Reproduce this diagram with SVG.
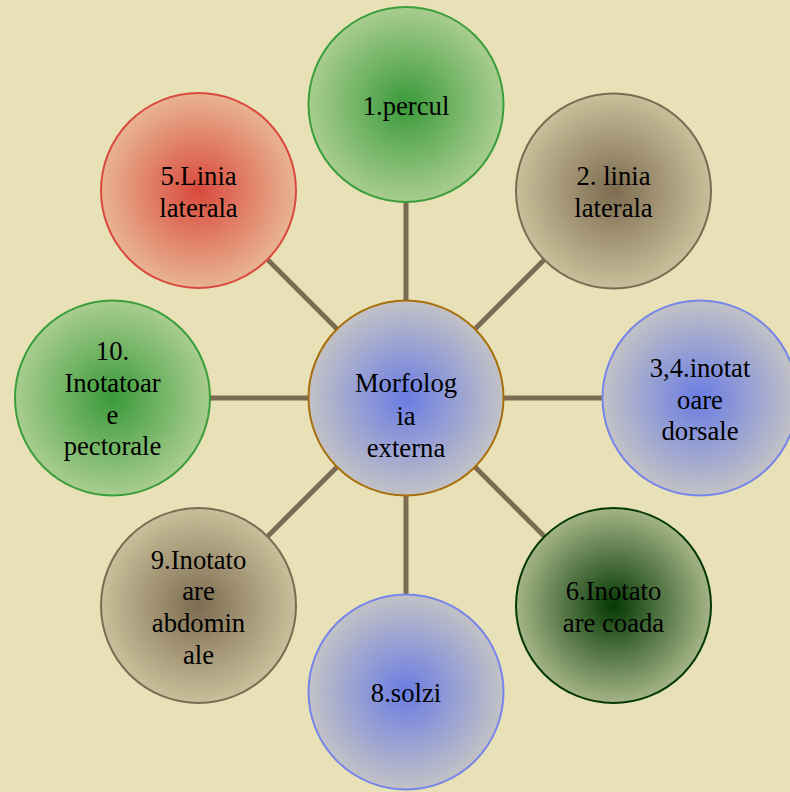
<svg xmlns="http://www.w3.org/2000/svg" width="790" height="792" viewBox="0 0 790 792">
<defs>
<radialGradient id="gGreen"><stop offset="0" stop-color="#3a9a3a"/><stop offset="1" stop-color="#a9cd8f"/></radialGradient>
<radialGradient id="gTan"><stop offset="0" stop-color="#7d6c50"/><stop offset="1" stop-color="#c9bf9a"/></radialGradient>
<radialGradient id="gBlue"><stop offset="0" stop-color="#6a7ce2"/><stop offset="1" stop-color="#c2c2c6"/></radialGradient>
<radialGradient id="gDark"><stop offset="0" stop-color="#043804"/><stop offset="1" stop-color="#a4b486"/></radialGradient>
<radialGradient id="gRed"><stop offset="0" stop-color="#d9493c"/><stop offset="1" stop-color="#e8b491"/></radialGradient>
</defs>
<style>
.n{stroke-width:2}
.t{font-family:"Liberation Serif","Times New Roman",serif;font-size:26.67px;fill:#000;text-anchor:middle}
.c line{stroke:#7b6b52;stroke-width:5}
</style>
<rect width="790" height="792" fill="#E8E1B8"/>
<g class="c">
<line x1="406" y1="300" x2="406" y2="202"/>
<line x1="406" y1="496" x2="406" y2="594"/>
<line x1="308" y1="398" x2="210" y2="398"/>
<line x1="504" y1="398" x2="602" y2="398"/>
<line x1="337" y1="329" x2="268" y2="260"/>
<line x1="475" y1="329" x2="544" y2="260"/>
<line x1="337" y1="467" x2="268" y2="536"/>
<line x1="475" y1="467" x2="544" y2="536"/>
</g>
<g id="n0"><circle class="n" cx="406" cy="398" r="97.5" fill="url(#gBlue)" stroke="#a8700c"/><text class="t" x="406"><tspan x="406" y="392">Morfolog</tspan><tspan x="406" y="424.5">ia</tspan><tspan x="406" y="456.5">externa</tspan></text></g>
<g id="n1"><circle class="n" cx="406" cy="104.5" r="97.5" fill="url(#gGreen)" stroke="#3a9e3a"/><text class="t" x="406" y="115">1.percul</text></g>
<g id="n2"><circle class="n" cx="613.5" cy="191" r="97.5" fill="url(#gTan)" stroke="#7b6b52"/><text class="t"><tspan x="613.5" y="185">2. linia</tspan><tspan x="613.5" y="217">laterala</tspan></text></g>
<g id="n3"><circle class="n" cx="700" cy="398" r="97.5" fill="url(#gBlue)" stroke="#7585e8"/><text class="t"><tspan x="700" y="377">3,4.inotat</tspan><tspan x="700" y="408.5">oare</tspan><tspan x="700" y="440">dorsale</tspan></text></g>
<g id="n6"><circle class="n" cx="613.5" cy="605.5" r="97.5" fill="url(#gDark)" stroke="#043804"/><text class="t"><tspan x="613.5" y="600">6.Inotato</tspan><tspan x="613.5" y="632">are coada</tspan></text></g>
<g id="n8"><circle class="n" cx="406" cy="692" r="97.5" fill="url(#gBlue)" stroke="#7585e8"/><text class="t" x="406" y="702">8.solzi</text></g>
<g id="n9"><circle class="n" cx="198.5" cy="605.5" r="97.5" fill="url(#gTan)" stroke="#7b6b52"/><text class="t"><tspan x="198.5" y="568.5">9.Inotato</tspan><tspan x="198.5" y="600">are</tspan><tspan x="198.5" y="632">abdomin</tspan><tspan x="198.5" y="663.5">ale</tspan></text></g>
<g id="n10"><circle class="n" cx="112.5" cy="398" r="97.5" fill="url(#gGreen)" stroke="#3a9e3a"/><text class="t"><tspan x="112.5" y="359.5">10.</tspan><tspan x="112.5" y="391.5">Inotatoar</tspan><tspan x="112.5" y="423.5">e</tspan><tspan x="112.5" y="455">pectorale</tspan></text></g>
<g id="n5"><circle class="n" cx="198.5" cy="190.5" r="97.5" fill="url(#gRed)" stroke="#d9493c"/><text class="t"><tspan x="198.5" y="185">5.Linia</tspan><tspan x="198.5" y="217">laterala</tspan></text></g>
</svg>
